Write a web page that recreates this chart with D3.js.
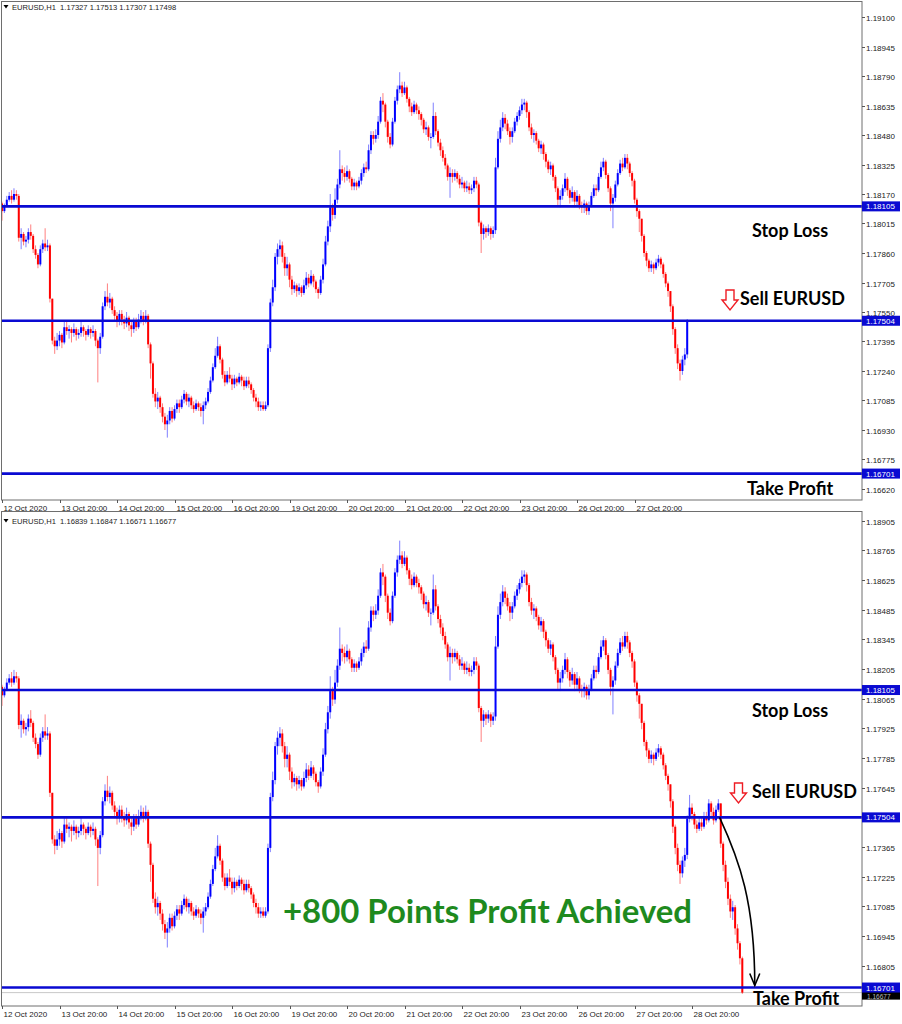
<!DOCTYPE html>
<html><head><meta charset="utf-8">
<script src="https://cdn.jsdelivr.net/npm/d3@7"></script>
<style>body{margin:0;background:#fff}svg{display:block}</style>
</head><body>
<svg id="c" width="902" height="1024"></svg>
<script>
// ---------- DATA (hourly EURUSD) ----------
const firstOpen = 1.1812;
const closes = [
1.1808,1.1811,1.1814,1.1816,1.1814,1.1817,1.1816,1.1794,1.1796,1.1792,
1.1793,1.1797,1.1795,1.1788,1.1785,1.1780,1.1788,1.1791,1.1789,1.1790,
1.1762,1.1740,1.1737,1.1740,1.1743,1.1739,1.1747,1.1745,1.1746,1.1744,
1.1746,1.1743,1.1744,1.1747,1.1745,1.1743,1.1746,1.1744,1.1745,1.1740,
1.1736,1.1742,1.1758,1.1763,1.1760,1.1762,1.1756,1.1753,1.1750,1.1754,
1.1751,1.1749,1.1752,1.1748,1.1746,1.1750,1.1747,1.1751,1.1753,1.1750,
1.1753,1.1738,1.1728,1.1712,1.1708,1.1710,1.1705,1.1700,1.1696,1.1698,
1.1703,1.1699,1.1704,1.1707,1.1705,1.1709,1.1712,1.1708,1.1710,1.1706,
1.1704,1.1707,1.1705,1.1703,1.1706,1.1708,1.1713,1.1719,1.1726,1.1732,
1.1737,1.1730,1.1722,1.1718,1.1722,1.1720,1.1717,1.1720,1.1718,1.1721,
1.1719,1.1716,1.1719,1.1717,1.1714,1.1710,1.1708,1.1705,1.1706,1.1704,
1.1706,1.1736,1.1760,1.1768,1.1784,1.1788,1.1790,1.1784,1.1778,1.1780,
1.1772,1.1767,1.1769,1.1766,1.1768,1.1765,1.1769,1.1773,1.1770,1.1774,
1.1771,1.1767,1.1765,1.1772,1.1780,1.1792,1.1800,1.1810,1.1806,1.1814,
1.1822,1.1830,1.1828,1.1826,1.1829,1.1825,1.1821,1.1823,1.1821,1.1824,
1.1828,1.1831,1.1830,1.1840,1.1848,1.1846,1.1848,1.1855,1.1866,1.1864,
1.1855,1.1847,1.1843,1.1855,1.1866,1.1872,1.1874,1.1870,1.1873,1.1867,
1.1863,1.1860,1.1864,1.1861,1.1859,1.1856,1.1851,1.1852,1.1847,1.1847,
1.1858,1.1850,1.1844,1.1840,1.1836,1.1832,1.1826,1.1828,1.1826,1.1828,
1.1825,1.1822,1.1823,1.1820,1.1821,1.1819,1.1820,1.1824,1.1822,1.1802,
1.1796,1.1799,1.1797,1.1799,1.1796,1.1798,1.1831,1.1846,1.1852,1.1857,
1.1854,1.1850,1.1847,1.1850,1.1855,1.1858,1.1861,1.1864,1.1865,1.1860,
1.1852,1.1848,1.1849,1.1845,1.1841,1.1843,1.1838,1.1834,1.1830,1.1832,
1.1826,1.1820,1.1814,1.1816,1.1820,1.1825,1.1819,1.1815,1.1818,1.1813,
1.1816,1.1811,1.1810,1.1812,1.1808,1.1811,1.1816,1.1820,1.1819,1.1826,
1.1831,1.1834,1.1827,1.1820,1.1812,1.1815,1.1822,1.1828,1.1833,1.1831,
1.1836,1.1833,1.1828,1.1824,1.1814,1.1808,1.1804,1.1795,1.1786,1.1782,
1.1778,1.1780,1.1778,1.1781,1.1783,1.1780,1.1775,1.1770,1.1766,1.1758,
1.1746,1.1736,1.1728,1.1724,1.1730,1.17327,1.17498,1.1755,1.1752,1.1747,
1.1745,1.1748,1.1746,1.1751,1.1749,1.1757,1.1753,1.1749,1.1754,1.1757,
1.1738,1.1728,1.1720,1.1712,1.1706,1.1708,1.1698,1.1691,1.16839,1.16677];
const highs = [
1.1813,1.1812,1.1816,1.1818,1.1819,1.1820,1.1819,1.1817,1.1799,1.1797,
1.1795,1.1799,1.1801,1.1796,1.1790,1.1786,1.1790,1.1793,1.1799,1.1793,
1.1791,1.1762,1.1742,1.1744,1.1745,1.1744,1.1750,1.1750,1.1748,1.1747,
1.1749,1.1747,1.1746,1.1750,1.1748,1.1746,1.1748,1.1747,1.1748,1.1746,
1.1741,1.1744,1.1760,1.1766,1.1770,1.1765,1.1763,1.1758,1.1755,1.1756,
1.1756,1.1753,1.1755,1.1753,1.1750,1.1752,1.1752,1.1754,1.1756,1.1755,
1.1756,1.1754,1.1739,1.1729,1.1715,1.1713,1.1711,1.1707,1.1702,1.1701,
1.1705,1.1705,1.1706,1.1709,1.1709,1.1711,1.1714,1.1713,1.1712,1.1711,
1.1708,1.1709,1.1708,1.1707,1.1708,1.1710,1.1715,1.1721,1.1728,1.1736,
1.1742,1.1738,1.1731,1.1724,1.1724,1.1726,1.1722,1.1722,1.1721,1.1723,
1.1722,1.1721,1.1721,1.1721,1.1718,1.1715,1.1712,1.1710,1.1708,1.1708,
1.1708,1.1738,1.1762,1.1772,1.1786,1.1791,1.1793,1.1792,1.1786,1.1784,
1.1781,1.1774,1.1771,1.1770,1.1770,1.1769,1.1772,1.1776,1.1775,1.1777,
1.1775,1.1772,1.1768,1.1774,1.1783,1.1795,1.1803,1.1817,1.1812,1.1820,
1.1825,1.1840,1.1832,1.1831,1.1832,1.1830,1.1826,1.1825,1.1824,1.1826,
1.1830,1.1833,1.1834,1.1843,1.1850,1.1850,1.1851,1.1858,1.1868,1.1870,
1.1865,1.1856,1.1849,1.1857,1.1868,1.1874,1.1881,1.1876,1.1876,1.1874,
1.1868,1.1865,1.1866,1.1865,1.1863,1.1860,1.1857,1.1855,1.1853,1.1849,
1.1865,1.1860,1.1851,1.1846,1.1842,1.1838,1.1833,1.1831,1.1830,1.1830,
1.1829,1.1827,1.1826,1.1824,1.1824,1.1823,1.1822,1.1826,1.1826,1.1823,
1.1803,1.1801,1.1800,1.1801,1.1800,1.1800,1.1836,1.1850,1.1856,1.1860,
1.1859,1.1856,1.1852,1.1852,1.1857,1.1860,1.1863,1.1867,1.1867,1.1866,
1.1861,1.1854,1.1851,1.1850,1.1846,1.1845,1.1844,1.1839,1.1835,1.1834,
1.1833,1.1827,1.1821,1.1819,1.1822,1.1828,1.1826,1.1820,1.1821,1.1819,
1.1819,1.1817,1.1813,1.1814,1.1813,1.1813,1.1818,1.1822,1.1822,1.1828,
1.1834,1.1836,1.1835,1.1828,1.1821,1.1817,1.1824,1.1830,1.1835,1.1836,
1.1838,1.1838,1.1834,1.1829,1.1825,1.1815,1.1809,1.1804,1.1796,1.1787,
1.1783,1.1782,1.1781,1.1783,1.1785,1.1784,1.1781,1.1776,1.1771,1.1766,
1.1759,1.1747,1.1738,1.1730,1.1732,1.1736,1.17513,1.1761,1.1757,1.1753,
1.1749,1.1750,1.1750,1.1753,1.1753,1.1759,1.1758,1.1755,1.1756,1.1759,
1.1757,1.1739,1.1730,1.1722,1.1714,1.1711,1.1709,1.1700,1.1692,1.16847];
const lows = [
1.1803,1.1807,1.1810,1.1813,1.1812,1.1813,1.1814,1.1792,1.1788,1.1790,
1.1789,1.1791,1.1793,1.1786,1.1783,1.1778,1.1779,1.1786,1.1787,1.1787,
1.1760,1.1738,1.1733,1.1735,1.1737,1.1736,1.1738,1.1743,1.1741,1.1739,
1.1742,1.1740,1.1741,1.1742,1.1742,1.1740,1.1742,1.1741,1.1742,1.1737,
1.1718,1.1733,1.1741,1.1756,1.1758,1.1757,1.1754,1.1750,1.1747,1.1748,
1.1748,1.1746,1.1747,1.1745,1.1742,1.1744,1.1745,1.1746,1.1749,1.1748,
1.1749,1.1736,1.1720,1.1710,1.1705,1.1704,1.1702,1.1697,1.1693,1.1689,
1.1696,1.1697,1.1698,1.1702,1.1702,1.1704,1.1707,1.1706,1.1705,1.1704,
1.1702,1.1703,1.1703,1.1700,1.1696,1.1704,1.1707,1.1712,1.1718,1.1725,
1.1731,1.1728,1.1720,1.1716,1.1717,1.1718,1.1714,1.1715,1.1716,1.1717,
1.1716,1.1714,1.1715,1.1715,1.1712,1.1708,1.1705,1.1703,1.1703,1.1703,
1.1703,1.1705,1.1734,1.1758,1.1766,1.1780,1.1784,1.1781,1.1774,1.1774,
1.1768,1.1764,1.1765,1.1763,1.1764,1.1763,1.1764,1.1767,1.1768,1.1769,
1.1768,1.1765,1.1762,1.1764,1.1770,1.1779,1.1790,1.1797,1.1803,1.1804,
1.1812,1.1820,1.1824,1.1823,1.1824,1.1823,1.1819,1.1819,1.1819,1.1820,
1.1822,1.1826,1.1828,1.1829,1.1838,1.1843,1.1844,1.1846,1.1854,1.1860,
1.1852,1.1844,1.1841,1.1842,1.1854,1.1864,1.1870,1.1868,1.1869,1.1865,
1.1860,1.1858,1.1859,1.1859,1.1856,1.1853,1.1849,1.1848,1.1845,1.1841,
1.1846,1.1848,1.1842,1.1837,1.1834,1.1830,1.1824,1.1815,1.1823,1.1824,
1.1823,1.1820,1.1820,1.1818,1.1818,1.1817,1.1817,1.1818,1.1820,1.1800,
1.1786,1.1793,1.1794,1.1795,1.1793,1.1794,1.1796,1.1830,1.1844,1.1850,
1.1851,1.1848,1.1843,1.1844,1.1849,1.1853,1.1856,1.1859,1.1861,1.1857,
1.1850,1.1846,1.1844,1.1843,1.1839,1.1838,1.1835,1.1831,1.1828,1.1827,
1.1824,1.1818,1.1811,1.1810,1.1814,1.1818,1.1816,1.1812,1.1813,1.1810,
1.1811,1.1809,1.1807,1.1807,1.1806,1.1806,1.1810,1.1815,1.1816,1.1818,
1.1825,1.1829,1.1825,1.1818,1.1808,1.1799,1.1813,1.1821,1.1827,1.1829,
1.1830,1.1830,1.1826,1.1821,1.1812,1.1805,1.1797,1.1792,1.1784,1.1779,
1.1776,1.1776,1.1775,1.1777,1.1779,1.1778,1.1773,1.1768,1.1763,1.1755,
1.1743,1.1733,1.1725,1.1719,1.1722,1.1727,1.17307,1.1748,1.1749,1.1745,
1.1743,1.1744,1.1744,1.1745,1.1747,1.1748,1.1750,1.1747,1.1748,1.1753,
1.1736,1.1725,1.1717,1.1709,1.1703,1.1702,1.1695,1.1688,1.1681,1.16671];

const levelValues = [1.18105, 1.17504, 1.16701];
const levelLabels = ["1.18105", "1.17504", "1.16701"];
const topTicks = ["1.19100","1.18945","1.18790","1.18635","1.18480","1.18325","1.18170","1.18015","1.17860","1.17705","1.17550","1.17395","1.17240","1.17085","1.16930","1.16775","1.16620"];
const bottomTicks = ["1.18905","1.18765","1.18625","1.18485","1.18345","1.18205","1.18065","1.17925","1.17785","1.17645","1.17365","1.17225","1.17085","1.16945","1.16805"];
const dateLabels = ["12 Oct 2020","13 Oct 20:00","14 Oct 20:00","15 Oct 20:00","16 Oct 20:00","19 Oct 20:00","20 Oct 20:00","21 Oct 20:00","22 Oct 20:00","23 Oct 20:00","26 Oct 20:00","27 Oct 20:00","28 Oct 20:00"];
const barsPerLabel = 24;
const topBarCount = 287;
const bottomBarCount = 310;
const topHeader = "EURUSD,H1  1.17327 1.17513 1.17307 1.17498";
const bottomHeader = "EURUSD,H1  1.16839 1.16847 1.16671 1.16677";
const bidPrice = 1.16677, bidLabel = "1.16677";

// ---------- DRAWING ----------
const opens = [firstOpen].concat(closes.slice(0, -1));
const svg = d3.select("#c");
svg.append("rect").attr("width", 902).attr("height", 1024).attr("fill", "#fff");

const x = d3.scaleLinear().domain([0, barsPerLabel]).range([2, 59.5]);
const BLUE = "#0000ff", RED = "#ff0000", LINE = "#0a0ad2";
const axisFont = "'Liberation Sans', Arial, sans-serif";
const boldFont = "Lato, 'Open Sans', sans-serif";

function panel(cfg) {
  const g = svg.append("g");
  const y = d3.scaleLinear().domain(cfg.domain).range(cfg.range);
  const L = 2, R = 862;
  const clipId = "clip" + cfg.id;
  svg.append("clipPath").attr("id", clipId).append("rect")
    .attr("x", L).attr("y", cfg.y0).attr("width", R - L).attr("height", cfg.y1 - cfg.y0);

  const plot = g.append("g").attr("clip-path", `url(#${clipId})`);

  if (cfg.bid) {
    plot.append("line").attr("x1", L).attr("x2", R)
      .attr("y1", y(bidPrice)).attr("y2", y(bidPrice))
      .attr("stroke", "#c8c8c8").attr("stroke-width", 1);
  }

  const idx = d3.range(cfg.n);
  const col = i => closes[i] >= opens[i] ? BLUE : RED;
  plot.selectAll(".wick").data(idx).join("line")
    .attr("x1", i => x(i)).attr("x2", i => x(i))
    .attr("y1", i => y(Math.max(highs[i], opens[i], closes[i])))
    .attr("y2", i => y(Math.min(lows[i], opens[i], closes[i])))
    .attr("stroke", col).attr("stroke-opacity", 0.5).attr("stroke-width", 1);
  plot.selectAll(".body").data(idx).join("rect")
    .attr("x", i => x(i) - 1).attr("width", 2)
    .attr("y", i => y(Math.max(opens[i], closes[i])))
    .attr("height", i => Math.max(1, y(Math.min(opens[i], closes[i])) - y(Math.max(opens[i], closes[i]))))
    .attr("fill", col);

  plot.selectAll(".lvl").data(levelValues).join("line")
    .attr("x1", L).attr("x2", R)
    .attr("y1", d => y(d)).attr("y2", d => y(d))
    .attr("stroke", LINE).attr("stroke-width", 2.6);

  g.append("rect").attr("x", L - 0.5).attr("y", cfg.y0 - 0.5)
    .attr("width", R - L + 0.5).attr("height", cfg.y1 - cfg.y0 + 0.5)
    .attr("fill", "none").attr("stroke", "#6e6e6e").attr("stroke-width", 1);

  g.append("path").attr("d", `M3.5,${cfg.hy - 5} L8.5,${cfg.hy - 5} L6,${cfg.hy - 1.5} Z`).attr("fill", "#000");
  g.append("text").attr("x", 12).attr("y", cfg.hy).text(cfg.header)
    .attr("font-family", axisFont).attr("font-size", "7.6px").attr("fill", "#222")
    .attr("xml:space", "preserve").style("white-space", "pre");

  cfg.ticks.forEach(t => {
    const v = +t, yy = Math.round(y(v)) + 0.5;
    g.append("line").attr("x1", R).attr("x2", R + 3).attr("y1", yy).attr("y2", yy).attr("stroke", "#555");
    g.append("text").attr("x", 866).attr("y", yy + 3).text(t)
      .attr("font-family", axisFont).attr("font-size", "8px").attr("fill", "#222");
  });

  if (cfg.bid) {
    const yy = y(bidPrice);
    g.append("rect").attr("x", R).attr("y", yy - 4).attr("width", 38).attr("height", 11).attr("fill", "#000");
    g.append("text").attr("x", 867).attr("y", yy + 6.2).text(bidLabel)
      .attr("font-family", axisFont).attr("font-size", "6.5px").attr("fill", "#bbb");
  }
  levelValues.forEach((v, k) => {
    const yy = y(v);
    g.append("rect").attr("x", R).attr("y", yy - 5).attr("width", 38).attr("height", 10).attr("fill", LINE);
    g.append("text").attr("x", 866).attr("y", yy + 3).text(levelLabels[k])
      .attr("font-family", axisFont).attr("font-size", "8px").attr("fill", "#fff");
  });

  cfg.dates.forEach((d, k) => {
    const xx = Math.round(x(k * barsPerLabel)) + 0.5;
    g.append("line").attr("x1", xx).attr("x2", xx).attr("y1", cfg.y1).attr("y2", cfg.y1 + 3).attr("stroke", "#555");
    g.append("text").attr("x", xx + 1).attr("y", cfg.y1 + 11).text(d)
      .attr("font-family", axisFont).attr("font-size", "8px").attr("fill", "#222");
  });

  const txt = (s, xx, yy) => g.append("text").attr("x", xx).attr("y", yy).text(s)
    .attr("font-family", boldFont).attr("font-weight", 700).attr("font-size", "18px").attr("fill", "#000");
  txt("Stop Loss", 752, cfg.slY);
  txt("Sell EURUSD", cfg.sellX, cfg.sellY);
  txt("Take Profit", cfg.tpX, cfg.tpY);

  const ax = cfg.arrowX, ay = cfg.arrowY;
  g.append("path")
    .attr("d", `M${ax - 4},${ay} L${ax + 4},${ay} L${ax + 4},${ay + 10} L${ax + 8},${ay + 10} L${ax},${ay + 20} L${ax - 8},${ay + 10} L${ax - 4},${ay + 10} Z`)
    .attr("fill", "#fff").attr("stroke", "#ee1c24").attr("stroke-width", 1.4);

  return y;
}

panel({id: "t", y0: 2, y1: 500, domain: [1.16620, 1.19100], range: [489, 17], n: topBarCount,
  ticks: topTicks, dates: dateLabels.slice(0, 12), header: topHeader, hy: 10, bid: false,
  slY: 237, sellX: 740, sellY: 305, tpX: 747, tpY: 495, arrowX: 730, arrowY: 290});

const yb = panel({id: "b", y0: 512, y1: 1006, domain: [1.16805, 1.18905], range: [965.5, 520.5], n: bottomBarCount,
  ticks: bottomTicks, dates: dateLabels, header: bottomHeader, hy: 524, bid: true,
  slY: 717, sellX: 752, sellY: 798, tpX: 753, tpY: 1005, arrowX: 738.5, arrowY: 783});

const x0 = x(299.5), y0 = yb(levelValues[1]);
const x1 = x(314.2), y1 = yb(levelValues[2]) - 2;
svg.append("path")
  .attr("d", `M${x0},${y0} C${x0 + 20},${y0 + 43} ${x1},${y1 - 83} ${x1},${y1}`)
  .attr("fill", "none").attr("stroke", "#000").attr("stroke-width", 1.6);
svg.append("path")
  .attr("d", `M${x1 - 5},${y1 - 12} L${x1},${y1} L${x1 + 5},${y1 - 12}`)
  .attr("fill", "none").attr("stroke", "#000").attr("stroke-width", 1.6);

svg.append("text").attr("x", 283).attr("y", 923).text("+800 Points Profit Achieved")
  .attr("font-family", boldFont).attr("font-weight", 700).attr("font-size", "32px")
  .attr("fill", "#1e8a1e").attr("textLength", 409).attr("lengthAdjust", "spacingAndGlyphs");
</script>
</body></html>
